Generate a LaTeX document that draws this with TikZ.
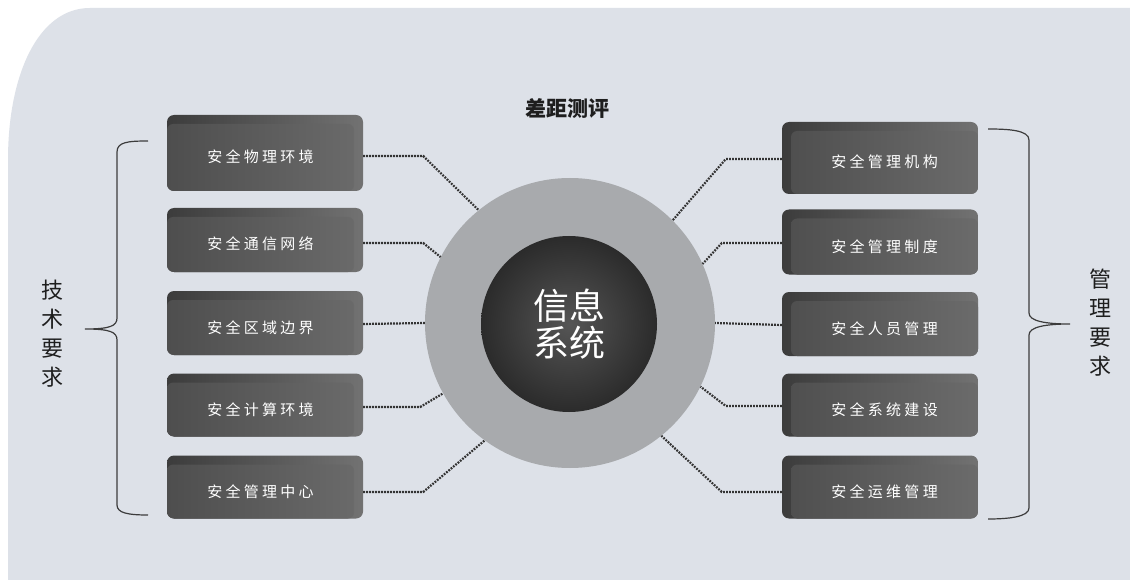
\documentclass[tikz,border=0pt]{standalone}
\usepackage{fontspec}
\newfontfamily\cjk{Noto Sans CJK SC}
\newfontfamily\cjkls[LetterSpace=22]{Noto Sans CJK SC}
\usetikzlibrary{calc}
\definecolor{bgc}{HTML}{DDE1E8}
\definecolor{plateL}{HTML}{3C3C3C}
\definecolor{plateR}{HTML}{727272}
\definecolor{faceL}{HTML}{4E4E4E}
\definecolor{faceR}{HTML}{6B6B6B}
\definecolor{ringc}{HTML}{A8AAAD}
\definecolor{coreIn}{HTML}{555555}
\definecolor{coreOut}{HTML}{2B2B2B}
\definecolor{dotc}{HTML}{333333}
\definecolor{brkc}{HTML}{3C3C3C}
\definecolor{labc}{HTML}{1E1E1E}
\tikzset{
  boxbase/.style={minimum width=196pt, minimum height=#1, inner sep=0pt,
    rounded corners=7pt, left color=plateL, right color=plateR, text=white,
    font=\cjkls\fontsize{15}{15}\selectfont, text height=22pt, text depth=2pt},
  lbox/.style={boxbase=#1,
    execute at begin node=\hspace*{-9pt},
    path picture={\shade[left color=faceL, right color=faceR, rounded corners=6pt]
      ([yshift=-9pt]path picture bounding box.north west) rectangle
      ([xshift=-9pt]path picture bounding box.south east);}},
  rbox/.style={boxbase=#1,
    execute at begin node=\hspace*{9pt},
    path picture={\shade[left color=faceL, right color=faceR, rounded corners=6pt]
      ([xshift=9pt]path picture bounding box.south west) rectangle
      ([yshift=-9pt]path picture bounding box.north east);}},
  conn/.style={draw=dotc, line width=2.2pt, dash pattern=on 1.8pt off 1.2pt},
  brk/.style={draw=brkc, line width=1.2pt},
  sidelab/.style={text=labc, align=center, font=\cjk\fontsize{22}{29}\selectfont},
  ttl/.style={text=labc, font=\cjk\bfseries\fontsize{21}{21}\selectfont}
}
\begin{document}
\begin{tikzpicture}[x=1pt,y=-1pt]
\useasboundingbox (0,0) rectangle (1130,580);
\fill[white] (0,0) rectangle (1130,580);
\fill[bgc] (8,580) -- (8,160) .. controls (8,75) and (38,8) .. (90,8) -- (1130,8) -- (1130,580) -- cycle;

% title
\node[ttl] (title) at (567,109) {差距测评};

% centre
\node[circle, minimum size=290pt, inner sep=0pt, fill=ringc] (ring) at (570,323) {};
\node[circle, minimum size=176pt, inner sep=0pt, inner color=coreIn, outer color=coreOut,
  text=white, align=center, font=\cjk\fontsize{36}{37}\selectfont] (core) at (569,324) {信息\\系统};

% left boxes
\node[lbox=76pt] (L1) at (265,153) {安全物理环境};
\node[lbox=64pt] (L2) at (265,240) {安全通信网络};
\node[lbox=64pt] (L3) at (265,323) {安全区域边界};
\node[lbox=63pt] (L4) at (265,405) {安全计算环境};
\node[lbox=63pt] (L5) at (265,487) {安全管理中心};

% right boxes
\node[rbox=72pt] (R1) at (880,158) {安全管理机构};
\node[rbox=65pt] (R2) at (880,242) {安全管理制度};
\node[rbox=64pt] (R3) at (880,324) {安全人员管理};
\node[rbox=63pt] (R4) at (880,405) {安全系统建设};
\node[rbox=63pt] (R5) at (880,487) {安全运维管理};

% connectors left
\draw[conn] ([yshift=-3pt]L1.east) -- ++(60,0) -- (ring.129);
\draw[conn] ([yshift=-3pt]L2.east) -- ++(60,0) -- (ring.153);
\draw[conn] ([yshift=-1pt]L3.east) -- (ring.180);
\draw[conn] ([yshift=-2pt]L4.east) -- ++(57,0) -- (ring.209);
\draw[conn] ([yshift=-5pt]L5.east) -- ++(60,0) -- (ring.234);

% connectors right
\draw[conn] ([yshift=-1pt]R1.west) -- ++(-56,0) -- (ring.45.5);
\draw[conn] ([yshift=-1pt]R2.west) -- ++(-60,0) -- (ring.24.3);
\draw[conn] ([yshift=-1pt]R3.west) -- (ring.0);
\draw[conn] ([yshift=-1pt]R4.west) -- ++(-56,0) -- (ring.334);
\draw[conn] ([yshift=-5pt]R5.west) -- ++(-60,0) -- (ring.309.6);

% brackets
\coordinate (lbT) at (148,141);
\coordinate (lbM) at (85,329);
\coordinate (lbB) at (148,515);
\draw[brk] (lbT) .. controls (128,141) and (117,142) .. (117,152) -- (117,318)
  .. controls (117,326) and (110,329) .. (lbM)
  .. controls (110,329) and (117,332) .. (117,340) -- (117,505)
  .. controls (117,513) and (128,515) .. (lbB);
\coordinate (rbT) at (988,129);
\coordinate (rbM) at (1070,324);
\coordinate (rbB) at (988,519);
\draw[brk] (rbT) .. controls (1008,129) and (1029,130) .. (1029,140) -- (1029,313)
  .. controls (1029,321) and (1045,324) .. (rbM)
  .. controls (1045,324) and (1029,327) .. (1029,335) -- (1029,508)
  .. controls (1029,517) and (1008,519) .. (rbB);

% side labels
\node[sidelab] (tech) at (52,334) {技\\术\\要\\求};
\node[sidelab] (mgmt) at (1100,323) {管\\理\\要\\求};
\end{tikzpicture}
\end{document}
